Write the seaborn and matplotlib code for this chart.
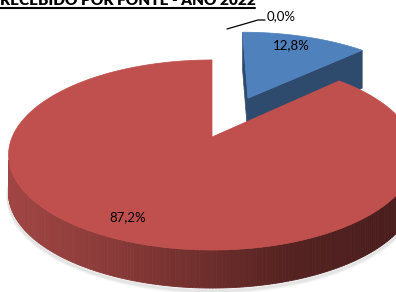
import numpy as np
import matplotlib
matplotlib.use("Agg")
import matplotlib.pyplot as plt
import seaborn as sns
from matplotlib.patches import Polygon
from matplotlib.colors import LinearSegmentedColormap

# Chart data
title = "RECEBIDO POR FONTE - ANO 2022"
values = [0.0, 12.8, 87.2]
explode = [0.0, 0.5, 0.0]
top_colors = ["#9BBB59", "#4F81BD", "#C0504D"]
cut_colors = ["#71893f", "#2E4A6D", "#7a302e"]

sns.set_style("white")
plt.rcParams["font.family"] = ["Lato", "DejaVu Sans"]

# projection of the pie top (perspective), side drawn with a fixed pixel depth
CX, CY = 212, 137
K, D = 937.0, 4.69
phi = np.radians(27.3)
s, c = np.sin(phi), np.cos(phi)
DEPTH = 38


def proj(x, y, z=0):
    d = D + y * c
    X, Y = CX + K * x / d, CY - K * (y * s) / d
    return X, Y + (DEPTH if z else 0)


side_cmap = LinearSegmentedColormap.from_list(
    "side", [(0.0, "#a24644"), (0.25, "#8c3c3a"), (0.5, "#702f2d"),
             (0.72, "#552322"), (1.0, "#4a1d1d")])

fig = plt.figure(figsize=(3.96, 2.92), dpi=100)
ax = fig.add_axes([0, 0, 1, 1])
ax.set_xlim(0, 396)
ax.set_ylim(292, 0)
ax.axis("off")

# slice angles, clockwise from 12 o'clock
wedges = []
cum = 0.0
for v, e in zip(values, explode):
    t2 = 90 - cum * 3.6
    t1 = t2 - v * 3.6
    mid = np.radians((t1 + t2) / 2)
    wedges.append((t1, t2, e * np.cos(mid), e * np.sin(mid)))
    cum += v


def draw_wedge(i, z0):
    t1, t2, ox, oy = wedges[i]
    if t2 - t1 <= 0:
        return
    ts = np.radians(np.linspace(t1, t2, 400))
    # curved side, shaded strip by strip
    for a, b in zip(ts[:-1], ts[1:]):
        m = (a + b) / 2
        vis = -1 - ox * np.cos(m) - (D * c + oy) * np.sin(m)
        if vis <= 0:
            continue
        pts = [proj(ox + np.cos(a), oy + np.sin(a)),
               proj(ox + np.cos(b), oy + np.sin(b)),
               proj(ox + np.cos(b), oy + np.sin(b), 1),
               proj(ox + np.cos(a), oy + np.sin(a), 1)]
        col = side_cmap(np.clip(pts[0][0] / 396, 0, 1)) if i == 2 else cut_colors[i]
        ax.add_patch(Polygon(pts, closed=True, facecolor=col, edgecolor=col,
                             lw=0.6, zorder=z0))
    # radial cut faces
    for t, sgn in ((np.radians(t1), 1), (np.radians(t2), -1)):
        nx, ny = np.sin(t) * sgn, -np.cos(t) * sgn
        px, py = ox + 0.5 * np.cos(t), oy + 0.5 * np.sin(t)
        vis = nx * (0 - px) + ny * (-D * c - py)
        if vis <= 0:
            continue
        pts = [proj(ox, oy), proj(ox + np.cos(t), oy + np.sin(t)),
               proj(ox + np.cos(t), oy + np.sin(t), 1), proj(ox, oy, 1)]
        ax.add_patch(Polygon(pts, closed=True, facecolor=cut_colors[i],
                             edgecolor=cut_colors[i], lw=0.5, zorder=z0 + 1))
    # top face
    pts = [proj(ox, oy)] + [proj(ox + np.cos(t), oy + np.sin(t)) for t in ts]
    ax.add_patch(Polygon(pts, closed=True, facecolor=top_colors[i],
                         edgecolor=top_colors[i], lw=0.5, zorder=z0 + 2))


# soft shadow under the front rim
ts = np.radians(np.linspace(185, 355, 200))
for k, al in ((4, 0.05), (3, 0.07), (2, 0.09)):
    xs, ys = zip(*[proj(np.cos(t), np.sin(t), 1) for t in ts])
    ax.plot(np.array(xs), np.array(ys) + k, color="#808080", alpha=al, lw=3,
            zorder=0, solid_capstyle="round")

draw_wedge(1, 2)
draw_wedge(2, 6)

# data labels
labels = [f"{v:.1f}%".replace(".", ",") for v in values]
ax.text(291, 45, labels[1], fontsize=9.5, ha="center", va="center", color="#000000", zorder=20)
ax.text(128, 217, labels[2], fontsize=9.5, ha="center", va="center", color="#000000", zorder=20)
ax.plot([227, 258, 265], [29, 20, 20], color="#000000", lw=0.9, zorder=20)
ax.text(267, 16, labels[0], fontsize=9.5, ha="left", va="center", color="#000000", zorder=20)

# title (cut at the top edge), bold and underlined
t = ax.text(0, 5, title, fontsize=11, fontweight="heavy", ha="left",
            va="baseline", color="#000000", zorder=20)
fig.canvas.draw()
w = t.get_window_extent().width
t.set_fontsize(11 * 255 / w)
ax.plot([0, 255], [8, 8], color="#000000", lw=1.5, zorder=20)

fig.savefig("out.png", dpi=100)
